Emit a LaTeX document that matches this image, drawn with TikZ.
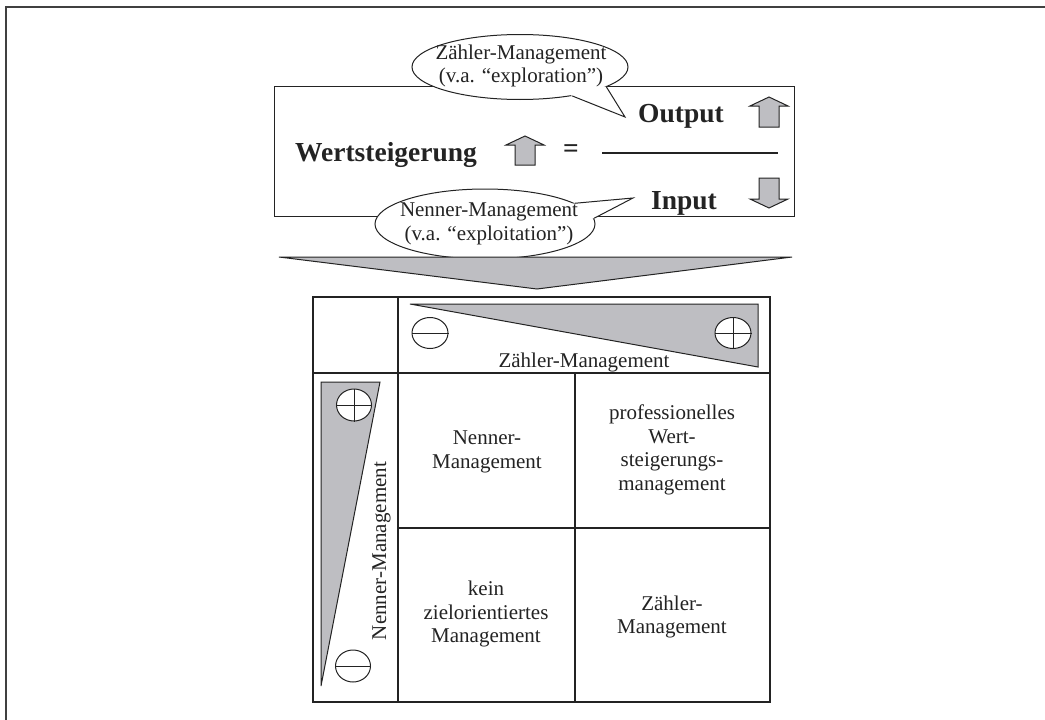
\documentclass[tikz,border=0pt]{standalone}
\usepackage{fontspec}
\setmainfont{Liberation Serif}
\usetikzlibrary{shapes.geometric}
\definecolor{tri}{RGB}{190,190,194}
\definecolor{ink}{RGB}{35,35,35}
\newcommand{\blockup}[3]{% cx, top, bottom
  \filldraw[grayfill] (#1-10,#3) -- (#1-10,#2+9) -- (#1-19,#2+9) -- (#1,#2) -- (#1+19,#2+9) -- (#1+10,#2+9) -- (#1+10,#3) -- cycle;}
\newcommand{\blockdown}[3]{% cx, top, bottom
  \filldraw[grayfill] (#1-10,#2) -- (#1-10,#3-9) -- (#1-19,#3-9) -- (#1,#3) -- (#1+19,#3-9) -- (#1+10,#3-9) -- (#1+10,#2) -- cycle;}
\begin{document}
\begin{tikzpicture}[x=1pt,y=-1pt,line join=miter,
  ln/.style={draw=ink,line width=1.1pt},
  frame/.style={draw=black!75,line width=2.2pt},
  grayfill/.style={fill=tri,draw=ink,line width=1pt},
  txt/.style={font=\fontsize{21}{23.5}\selectfont,align=center,text=ink,inner sep=0pt},
  bold/.style={font=\fontsize{27.5}{30}\selectfont\bfseries,text=ink,inner sep=0pt},
  bubble/.style={ellipse,draw=ink,fill=white,line width=1pt,inner sep=0pt},
  sign/.style={ellipse,draw=ink,fill=white,line width=1pt,minimum width=36pt,minimum height=31pt,inner sep=0pt},
  vsign/.style={sign,minimum width=35pt,minimum height=32pt},
]
\useasboundingbox (0,0) rectangle (1045,720);
\draw[frame] (1046,7) -- (6,7) -- (6,721);

% top box
\node[ln,anchor=north west,minimum width=520pt,minimum height=130pt,inner sep=0pt] (box) at (274,86) {};
\node[bold,anchor=base] (wert) at (386,161) {Wertsteigerung};
\blockup{525}{136}{165}
\node[bold] (eq) at (571,151) {=};
\draw[ln] (602,153) coordinate (fl) -- (778,153) coordinate (fr);
\node[bold,anchor=base] (out) at (681,122) {Output};
\node[bold,anchor=base] (inp) at (684,209) {Input};
\blockup{769}{97}{127}
\blockdown{769}{178}{208}

% top bubble
\node[bubble,minimum width=216pt,minimum height=65pt] (b1) at (520,67) {};
\coordinate (t1) at (625,117);
\fill[white] (b1.-29) -- (t1) -- (b1.-13) -- (b1.center) -- cycle;
\draw[ln,line width=1pt] (b1.-29) -- (t1) -- (b1.-13);
\node[txt] (b1t) at (521,66) {Zähler-Management\\(v.a. “exploration”)};

% bottom bubble
\node[bubble,minimum width=220pt,minimum height=70pt] (b2) at (485,224) {};
\coordinate (t2) at (633,198);
\fill[white] (b2.13) -- (t2) -- (b2.3) -- (b2.center) -- cycle;
\draw[ln,line width=1pt] (b2.13) -- (t2) -- (b2.3);
\node[txt] (b2t) at (489,224) {Nenner-Management\\(v.a. “exploitation”)};

% big down triangle
\filldraw[grayfill] (279,257) -- (792,257) -- (537,289) -- cycle;

% table
\draw[ln] (313,297) rectangle (770,702);
\draw[ln] (398,297) -- (398,702);
\draw[ln] (313,373) -- (770,373);
\draw[ln] (575,373) -- (575,702);
\draw[ln] (398,528) -- (770,528);

% header triangle
\filldraw[grayfill] (410,304) -- (758,304) -- (758,367) -- cycle;
\node[sign] (zm) at (430,333) {};
\draw[ink,line width=1pt] (zm.west) -- (zm.east);
\node[sign] (zp) at (733,333) {};
\draw[ink,line width=1pt] (zp.west) -- (zp.east) (zp.north) -- (zp.south);
\node[txt,anchor=base] (zl) at (584,367) {Zähler-Management};

% left triangle
\filldraw[grayfill] (321,382) -- (380,382) -- (321,686) -- cycle;
\node[vsign] (np) at (354,405) {};
\draw[ink,line width=1pt] (np.west) -- (np.east) (np.north) -- (np.south);
\node[vsign] (nm) at (353,666) {};
\draw[ink,line width=1pt] (nm.west) -- (nm.east);
\node[txt,anchor=base,rotate=90] (nl) at (386,551) {Nenner-Management};

% cells
\node[txt] (c11) at (487,452) {Nenner-\\Management};
\node[txt] (c12) at (672,450) {professionelles\\Wert-\\steigerungs-\\management};
\node[txt] (c21) at (486,614) {kein\\zielorientiertes\\Management};
\node[txt] (c22) at (672,617) {Zähler-\\Management};
\end{tikzpicture}
\end{document}
